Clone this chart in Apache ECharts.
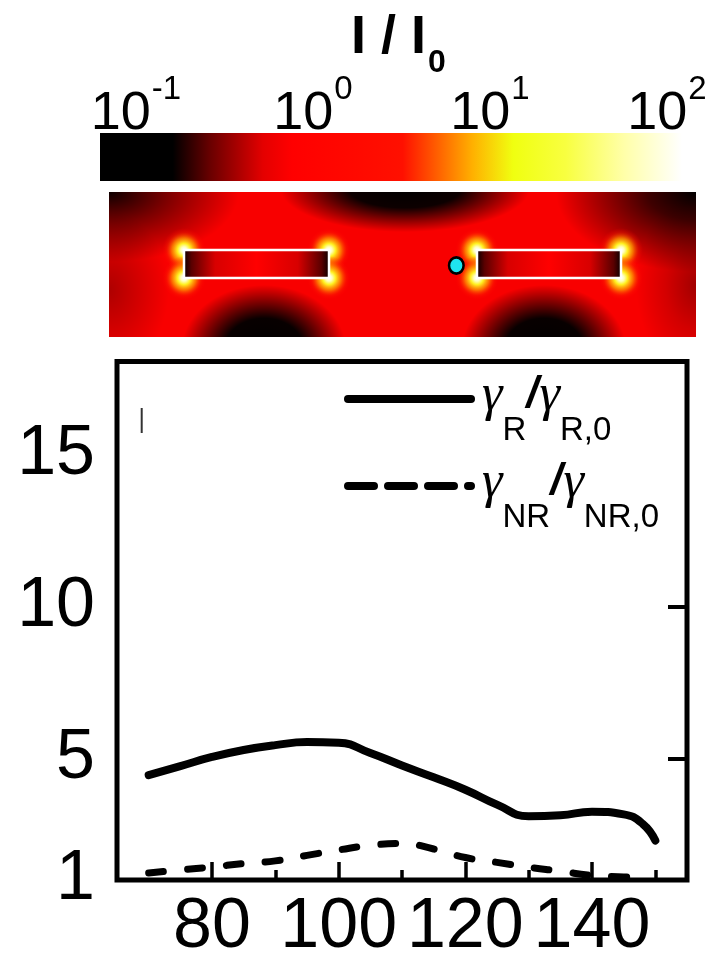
<!DOCTYPE html>
<html>
<head>
<meta charset="utf-8">
<script src="https://cdn.jsdelivr.net/npm/echarts@6/dist/echarts.min.js"></script>
<style>
  html, body { margin: 0; padding: 0; background: #ffffff; }
  #chart { width: 725px; height: 963px; }
</style>
</head>
<body>
<div id="chart"></div>
<script>
// Rod length (nm) against normalised decay rates
const sizeR   = [70, 75, 80, 85, 90, 95, 100, 105, 110, 115, 120, 125, 130, 135, 140, 145, 148, 150];
const gammaR  = [4.45, 4.75, 5.05, 5.28, 5.44, 5.54, 5.52, 5.18, 4.77, 4.38, 3.97, 3.48, 3.10, 3.13, 3.25, 3.16, 2.85, 2.30];
const sizeNR  = [70, 75, 80, 85, 90, 95, 100, 105, 110, 115, 120, 125, 130, 135, 140, 145, 148];
const gammaNR = [1.23, 1.33, 1.43, 1.54, 1.63, 1.81, 1.99, 2.14, 2.20, 2.02, 1.74, 1.58, 1.42, 1.29, 1.15, 1.10, 1.08];

// Axis ticks and labels
const xLabelTicks = [80, 100, 120, 140];
const xMinorTicks = [90, 110, 130, 150];
const yLabelTicks = [1, 5, 10, 15];
const yRightTicks = [5, 10];
const colorbarTicks = [0.1, 1, 10, 100];

const FONT = 'Liberation Sans';

// Field-intensity map: layered gradients inside a clipped box
const MAP = { x: 109, y: 192, w: 587, h: 145 };

function blob(cx, cy, rx, ry, stops, z) {
  const s = ry / rx;
  const x0 = Math.max(MAP.x, cx - rx), x1 = Math.min(MAP.x + MAP.w, cx + rx);
  const y0 = Math.max(MAP.y, cy - ry), y1 = Math.min(MAP.y + MAP.h, cy + ry);
  return {
    type: 'rect', x: cx, y: cy, scaleY: s, z: z || 2, silent: true,
    shape: { x: x0 - cx, y: (y0 - cy) / s, width: x1 - x0, height: (y1 - y0) / s },
    style: { fill: { type: 'radial', x: 0, y: 0, r: rx, global: true, colorStops: stops } }
  };
}
function dark(a0, a1, p) {
  return [
    { offset: 0, color: 'rgba(0,0,0,' + a0 + ')' },
    { offset: p, color: 'rgba(0,0,0,' + a1 + ')' },
    { offset: 1, color: 'rgba(0,0,0,0)' }
  ];
}
const hot = [
  { offset: 0, color: '#ffffff' },
  { offset: 0.14, color: '#ffffc0' },
  { offset: 0.3, color: '#fff020' },
  { offset: 0.55, color: 'rgba(255,150,0,0.75)' },
  { offset: 0.8, color: 'rgba(255,40,0,0.3)' },
  { offset: 1, color: 'rgba(255,0,0,0)' }
];
const edgeGlow = [
  { offset: 0, color: 'rgba(255,200,0,0.8)' },
  { offset: 0.5, color: 'rgba(255,90,0,0.4)' },
  { offset: 1, color: 'rgba(255,0,0,0)' }
];
const rods = [
  { x: 184, y: 250, w: 145, h: 28 },
  { x: 477, y: 250, w: 144, h: 28 }
];

const mapEls = [
  { type: 'rect', z: 1, silent: true, shape: { x: MAP.x, y: MAP.y, width: MAP.w, height: MAP.h }, style: { fill: '#f80000' } },
  blob(109, 192, 130, 70, dark(0.95, 0.5, 0.45)),
  blob(696, 192, 140, 80, dark(1, 0.75, 0.35)),
  blob(405, 188, 125, 44, dark(1, 0.95, 0.45)),
  blob(264, 349, 82, 64, dark(1, 0.97, 0.48)),
  blob(544, 349, 82, 64, dark(1, 0.97, 0.48)),
  blob(109, 290, 60, 80, dark(0.3, 0.15, 0.5)),
  blob(696, 285, 60, 90, dark(0.35, 0.15, 0.5))
];
rods.forEach(function (r) {
  [r.x, r.x + r.w].forEach(function (ex) {
    mapEls.push(blob(ex, r.y + r.h / 2, 16, 26, edgeGlow, 3));
  });
  [[r.x, r.y], [r.x, r.y + r.h], [r.x + r.w, r.y], [r.x + r.w, r.y + r.h]].forEach(function (p) {
    mapEls.push(blob(p[0], p[1], 22, 22, hot, 3));
  });
  mapEls.push({
    type: 'rect', z: 4, silent: true,
    shape: { x: r.x, y: r.y, width: r.w, height: r.h },
    style: {
      stroke: '#ffffff', lineWidth: 2.5,
      fill: { type: 'linear', x: 0, y: 0, x2: 1, y2: 0, colorStops: [
        { offset: 0, color: '#000000' }, { offset: 0.06, color: '#5a0000' },
        { offset: 0.22, color: '#d80000' }, { offset: 0.5, color: '#ff0000' },
        { offset: 0.78, color: '#d80000' }, { offset: 0.94, color: '#5a0000' },
        { offset: 1, color: '#000000' }] }
    }
  });
});
mapEls.push({
  type: 'circle', z: 5, silent: true, x: 456.3, y: 265.5, scaleY: 1.12,
  shape: { cx: 0, cy: 0, r: 7.3 },
  style: { fill: '#1fe4f0', stroke: '#000000', lineWidth: 2.5 }
});

// Colour bar
const colorbar = {
  type: 'rect', z: 6, silent: true,
  shape: { x: 100, y: 133, width: 582, height: 48 },
  style: { fill: { type: 'linear', x: 0, y: 0, x2: 1, y2: 0, colorStops: [
    { offset: 0, color: '#000000' }, { offset: 0.125, color: '#000000' },
    { offset: 0.19, color: '#6a0000' }, { offset: 0.28, color: '#e40000' },
    { offset: 0.33, color: '#ff0000' }, { offset: 0.52, color: '#ff1000' },
    { offset: 0.58, color: '#ff6000' }, { offset: 0.64, color: '#ffb000' },
    { offset: 0.71, color: '#f0ff10' }, { offset: 0.8, color: '#f8ff40' },
    { offset: 0.9, color: '#ffffa8' }, { offset: 1, color: '#ffffff' }] } }
};

// Legend text: one shared line height, tokens placed by padding and alignment
const LH = 96;

const chart = echarts.init(document.getElementById('chart'), null, { renderer: 'canvas' });

chart.setOption({
  animation: false,
  backgroundColor: '#ffffff',
  title: {
    text: '{m|I / I}{s|0}',
    left: 346, top: 6,
    textStyle: {
      rich: {
        m: { fontFamily: FONT, fontWeight: 'bold', fontSize: 54, lineHeight: 54, verticalAlign: 'top', color: '#000' },
        s: { fontFamily: FONT, fontWeight: 'bold', fontSize: 32, lineHeight: 32, padding: [36, 0, 0, 2], verticalAlign: 'top', color: '#000' }
      }
    }
  },
  grid: [
    { left: 117, top: 361.5, width: 570, height: 524, show: true, borderColor: '#000', borderWidth: 5, backgroundColor: 'transparent' },
    { left: 136, top: 133, width: 531, height: 48, show: false }
  ],
  xAxis: [
    {
      type: 'value', gridIndex: 0, min: 65, max: 155, position: 'bottom',
      axisLine: { show: false }, splitLine: { show: false },
      axisTick: { show: true, inside: true, length: 18, customValues: xLabelTicks, lineStyle: { color: '#000', width: 3.5 } },
      axisLabel: { customValues: xLabelTicks, margin: 13, fontFamily: FONT, fontSize: 70, color: '#000' }
    },
    {
      type: 'value', gridIndex: 0, min: 65, max: 155, position: 'bottom',
      axisLine: { show: false }, splitLine: { show: false }, axisLabel: { show: false },
      axisTick: { show: true, inside: true, length: 10, customValues: xMinorTicks, lineStyle: { color: '#000', width: 3.5 } }
    },
    {
      type: 'log', gridIndex: 1, logBase: 10, min: 0.1, max: 100, position: 'top',
      axisLine: { show: false }, axisTick: { show: false }, splitLine: { show: false },
      axisLabel: {
        customValues: colorbarTicks, margin: 6,
        formatter: function (v) { return '{b|10}{e|' + Math.round(Math.log10(v)) + '}'; },
        rich: {
          b: { fontFamily: FONT, fontSize: 54, lineHeight: 54, verticalAlign: 'top', padding: [14, 0, 0, 0], color: '#000' },
          e: { fontFamily: FONT, fontSize: 33, lineHeight: 33, verticalAlign: 'top', padding: [0, 0, 0, 1], color: '#000' }
        }
      }
    }
  ],
  yAxis: [
    {
      type: 'value', gridIndex: 0, min: 1, max: 18.07,
      axisLine: { show: false }, axisTick: { show: false }, splitLine: { show: false },
      axisLabel: { customValues: yLabelTicks, margin: 22, fontFamily: FONT, fontSize: 70, color: '#000' }
    },
    {
      type: 'value', gridIndex: 0, min: 1, max: 18.07, position: 'right',
      axisLine: { show: false }, splitLine: { show: false }, axisLabel: { show: false },
      axisTick: { show: true, inside: true, length: 19, customValues: yRightTicks, lineStyle: { color: '#000', width: 4 } }
    },
    { type: 'value', gridIndex: 1, show: false }
  ],
  legend: {
    orient: 'vertical', left: 344, top: 351, padding: 0,
    itemWidth: 123, itemHeight: 14, itemGap: -9, selectedMode: false,
    data: [
      { name: 'gammaR', itemStyle: { opacity: 0 }, lineStyle: { width: 8, type: 'solid', cap: 'round', color: '#000' } },
      { name: 'gammaNR', itemStyle: { opacity: 0 }, lineStyle: { width: 8, type: [26, 14], cap: 'round', color: '#000' } }
    ],
    formatter: function (name) {
      return name === 'gammaR'
        ? '{g0|γ}{s|R}{sl|/}{g|γ}{s|R,0}'
        : '{g0|γ}{s|NR}{sl|/}{g|γ}{s|NR,0}';
    },
    textStyle: {
      lineHeight: LH,
      rich: {
        g0: { fontFamily: 'Liberation Serif', fontStyle: 'italic', fontSize: 52, lineHeight: LH, verticalAlign: 'top', padding: [19, 0, 0, 6], color: '#000' },
        g: { fontFamily: 'Liberation Serif', fontStyle: 'italic', fontSize: 52, lineHeight: LH, verticalAlign: 'top', padding: [19, 0, 0, 0], color: '#000' },
        s: { fontFamily: FONT, fontSize: 33, lineHeight: LH, verticalAlign: 'bottom', color: '#000' },
        sl: { fontFamily: FONT, fontWeight: 'bold', fontStyle: 'italic', fontSize: 44, lineHeight: LH, verticalAlign: 'top', padding: [22, 1, 0, 0], color: '#000' }
      }
    }
  },
  series: [
    {
      name: 'gammaR', type: 'line', xAxisIndex: 0, yAxisIndex: 0,
      data: sizeR.map(function (x, i) { return [x, gammaR[i]]; }),
      smooth: true, symbol: 'none', silent: true,
      lineStyle: { color: '#000', width: 8, cap: 'round', join: 'round' },
      itemStyle: { color: '#000' }
    },
    {
      name: 'gammaNR', type: 'line', xAxisIndex: 0, yAxisIndex: 0,
      data: sizeNR.map(function (x, i) { return [x, gammaNR[i]]; }),
      smooth: true, symbol: 'none', silent: true,
      lineStyle: { color: '#000', width: 7, type: [15, 24], cap: 'round', join: 'round' },
      itemStyle: { color: '#000' }
    }
  ],
  graphic: {
    elements: mapEls.concat([
      colorbar,
      { type: 'line', z: 6, silent: true, shape: { x1: 141.7, y1: 408, x2: 141.7, y2: 433 }, style: { stroke: '#333', lineWidth: 2 } }
    ])
  }
});
</script>
</body>
</html>
